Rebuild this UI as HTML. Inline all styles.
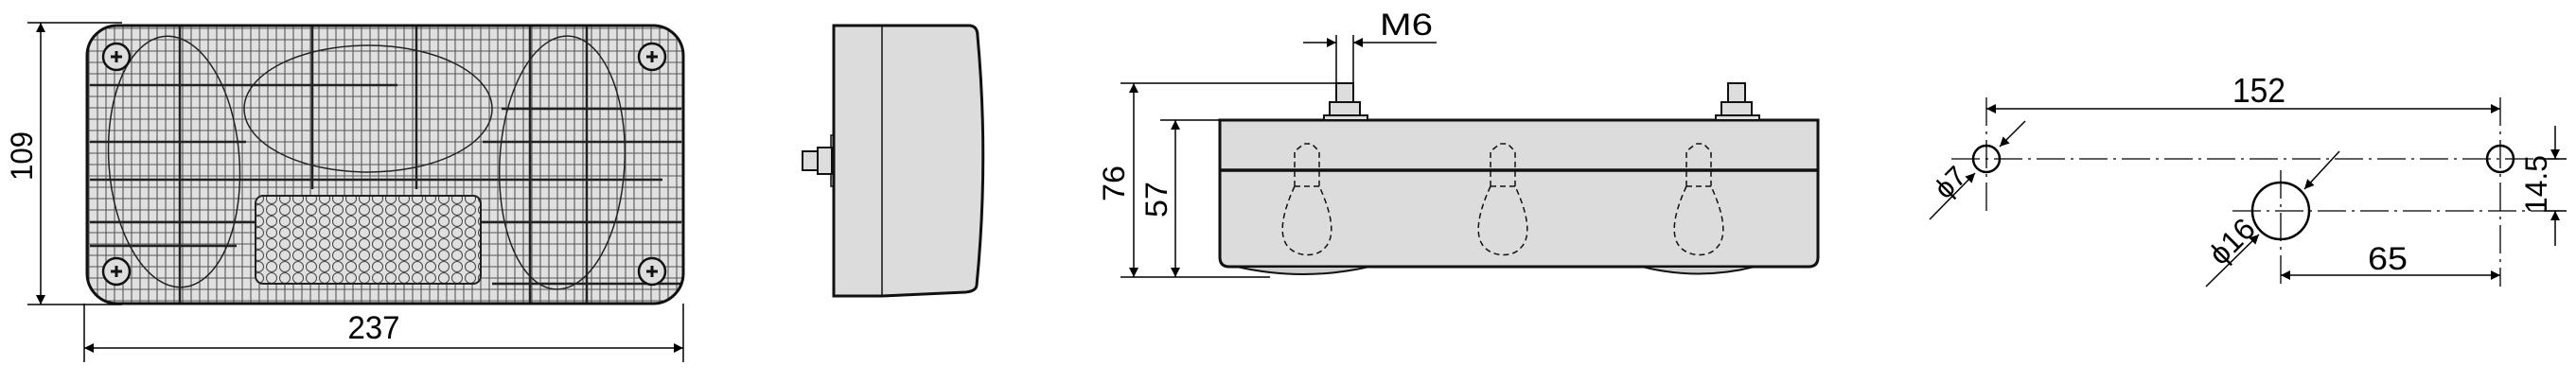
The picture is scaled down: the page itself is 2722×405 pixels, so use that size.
<!DOCTYPE html>
<html><head><meta charset="utf-8"><style>
html,body{margin:0;padding:0;background:#fff;}
svg{display:block;}
text{font-family:"Liberation Sans",sans-serif;fill:#000;}
</style></head><body>
<svg width="2722" height="405" viewBox="0 0 2722 405" xmlns="http://www.w3.org/2000/svg">
<defs>
<marker id="a" viewBox="0 0 10 10" refX="10" refY="5" markerWidth="18" markerHeight="10" markerUnits="userSpaceOnUse" orient="auto-start-reverse"><path d="M0,0 L10,5 L0,10 z" fill="#000"/></marker>
<pattern id="grid" width="18" height="24" patternUnits="userSpaceOnUse">
<rect width="18" height="24" fill="#e0e0e0"/>
<path d="M4,0V24M13,0V24" stroke="#555" stroke-width="1.1"/>
<path d="M0,6H18M0,18H18" stroke="#555" stroke-width="1.1"/>
</pattern>
<pattern id="hex" width="14" height="12" patternUnits="userSpaceOnUse">
<rect width="14" height="12" fill="#e0e0e0"/>
<circle cx="7" cy="6" r="5.5" fill="none" stroke="#444" stroke-width="1"/>
</pattern>
<clipPath id="rc"><rect x="92" y="27" width="630" height="294" rx="32"/></clipPath>
</defs>

<!-- FRONT VIEW -->
<rect x="92" y="27" width="630" height="294" rx="32" fill="url(#grid)"/>
<g clip-path="url(#rc)" stroke="#222" stroke-width="2.5">
<path d="M95,90H420M95,150H260M95,190H700M95,260H250M530,115H720M95,235H720M510,150H720M520,300H720"/>
<path d="M190,27V321M330,27V200M620,27V321M440,27V200M560,27V321"/>
</g>
<rect x="92" y="27" width="630" height="294" rx="32" fill="none" stroke="#111" stroke-width="3"/>
<ellipse cx="184" cy="171" rx="69" ry="133" fill="none" stroke="#222" stroke-width="1.5" transform="rotate(-4 184 171)"/>
<ellipse cx="389" cy="115" rx="131" ry="67" fill="none" stroke="#222" stroke-width="1.5"/>
<ellipse cx="594" cy="172" rx="66" ry="134" fill="none" stroke="#222" stroke-width="1.5" transform="rotate(3 594 172)"/>
<rect x="270" y="207" width="238" height="93" rx="8" fill="url(#hex)" stroke="#222" stroke-width="2"/>
<g fill="#ddd" stroke="#111" stroke-width="2.5">
<circle cx="123" cy="60" r="14"/><circle cx="689" cy="60" r="14"/><circle cx="123" cy="287" r="14"/><circle cx="689" cy="287" r="14"/>
</g>
<g stroke="#111" stroke-width="3"><path d="M117,60h12M123,54v12M683,60h12M689,54v12M117,287h12M123,281v12M683,287h12M689,281v12"/></g>
<!-- 109 / 237 -->
<g stroke="#000" stroke-width="1.5" fill="none">
<path d="M29,24H129M29,322H129"/>
<path d="M43,24V322" marker-start="url(#a)" marker-end="url(#a)"/>
<path d="M89,321V383M722,321V383"/>
<path d="M89,368H722" marker-start="url(#a)" marker-end="url(#a)"/>
</g>
<text x="0" y="0" font-size="32" text-anchor="middle" transform="translate(34 165) rotate(-90)" textLength="52" lengthAdjust="spacingAndGlyphs">109</text>
<text x="395" y="358" font-size="34" text-anchor="middle" textLength="55" lengthAdjust="spacingAndGlyphs">237</text>

<!-- SIDE VIEW -->
<rect x="878" y="143" width="6" height="54" fill="#ccc" stroke="#111" stroke-width="1.5"/>
<rect x="848" y="160" width="18" height="20" fill="#ddd" stroke="#111" stroke-width="2"/>
<rect x="864" y="156" width="15" height="28" fill="#ddd" stroke="#111" stroke-width="2"/>
<path d="M881,27 H1025 Q1033,28 1033,38 Q1045,170 1032,302 Q1031,308 1020,309 L932,313 H881 Z" fill="#dcdcdc" stroke="#111" stroke-width="3"/>
<path d="M932,27V313" stroke="#111" stroke-width="1.5"/>

<!-- TOP VIEW -->
<path d="M1289,127 H1921 V272 Q1921,282 1911,282 H1299 Q1289,282 1289,272 Z" fill="#dcdcdc" stroke="#111" stroke-width="3"/>
<path d="M1289,180H1921" stroke="#111" stroke-width="3.5"/>
<path d="M1307,282 Q1377,298 1447,282 Z M1735,282 Q1795,297 1854,282 Z" fill="#ccc" stroke="#111" stroke-width="2"/>
<g fill="#ddd" stroke="#111" stroke-width="2">
<rect x="1412" y="88" width="18" height="22"/><rect x="1405" y="108" width="32" height="14"/><rect x="1399" y="122" width="46" height="5"/>
<rect x="1826" y="88" width="18" height="22"/><rect x="1819" y="108" width="32" height="14"/><rect x="1813" y="122" width="46" height="5"/>
</g>
<g fill="none" stroke="#111" stroke-width="1.5" stroke-dasharray="6,4">
<path id="b1" d="M1368,197 V160 L1378,152 H1386 L1394,160 V197 M1368,197 H1394 M1368,197 C1355,225 1350,250 1362,262 C1372,272 1392,272 1400,262 C1412,250 1407,225 1394,197"/>
<use href="#b1" transform="translate(207 0)"/>
<use href="#b1" transform="translate(414 0)"/>
</g>
<g stroke="#000" stroke-width="1.5" fill="none">
<path d="M1184,88H1412M1184,293H1342M1226,127H1289"/>
<path d="M1198,88V293" marker-start="url(#a)" marker-end="url(#a)"/>
<path d="M1242,127V293" marker-start="url(#a)" marker-end="url(#a)"/>
<path d="M1412,37V88M1430,37V88"/>
<path d="M1377,45H1412" marker-end="url(#a)"/>
<path d="M1518,45H1430" marker-end="url(#a)"/>
</g>
<text font-size="32" text-anchor="middle" transform="translate(1188 194) rotate(-90)" textLength="38" lengthAdjust="spacingAndGlyphs">76</text>
<text font-size="32" text-anchor="middle" transform="translate(1233 211) rotate(-90)" textLength="38" lengthAdjust="spacingAndGlyphs">57</text>
<text x="1486" y="37" font-size="32" text-anchor="middle" textLength="56" lengthAdjust="spacingAndGlyphs">M6</text>

<!-- HOLE PATTERN -->
<g stroke="#000" stroke-width="1.3" fill="none" stroke-dasharray="30,6,3,6">
<path d="M2062,168H2704M2359,223H2704M2099,103V227M2642,103V303M2410,180V302"/>
</g>
<g stroke="#000" stroke-width="2.5" fill="none">
<circle cx="2099" cy="168" r="14"/><circle cx="2642" cy="168" r="14"/><circle cx="2410" cy="223" r="30"/>
</g>
<g stroke="#000" stroke-width="1.5" fill="none">
<path d="M2099,115H2642" marker-start="url(#a)" marker-end="url(#a)"/>
<path d="M2410,291H2642" marker-start="url(#a)" marker-end="url(#a)"/>
<path d="M2700,133V168" marker-end="url(#a)"/>
<path d="M2700,260V223" marker-end="url(#a)"/>
<path d="M2688,168H2712M2688,223H2712"/>
<path d="M2039,232L2087,183" marker-end="url(#a)"/>
<path d="M2140,128L2113,155" marker-end="url(#a)"/>
<path d="M2331,303L2387,248" marker-end="url(#a)"/>
<path d="M2472,160L2435,200" marker-end="url(#a)"/>
</g>
<text x="2387" y="108" font-size="36" text-anchor="middle" textLength="56" lengthAdjust="spacingAndGlyphs">152</text>
<text x="2523" y="285" font-size="34" text-anchor="middle" textLength="42" lengthAdjust="spacingAndGlyphs">65</text>
<text font-size="32" text-anchor="middle" transform="translate(2691 195) rotate(-90)" textLength="62" lengthAdjust="spacingAndGlyphs">14.5</text>
<text font-size="30" text-anchor="middle" transform="translate(2068 200) rotate(-45)">ϕ7</text>
<text font-size="32" text-anchor="middle" transform="translate(2366 263) rotate(-45)">ϕ16</text>
</svg>
</body></html>
